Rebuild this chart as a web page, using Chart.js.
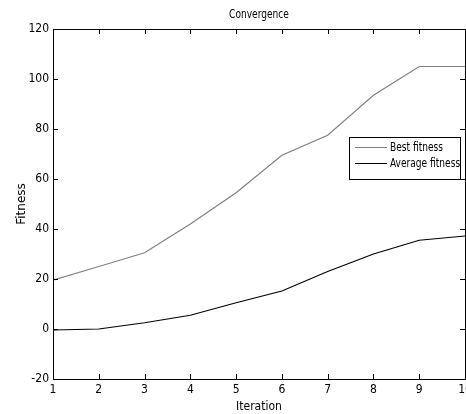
<!DOCTYPE html>
<html>
<head>
<meta charset="utf-8">
<script src="https://cdn.jsdelivr.net/npm/chart.js@4/dist/chart.umd.min.js"></script>
<style>
  html, body { margin: 0; padding: 0; background: #fff; }
  canvas { display: block; }
</style>
</head>
<body>
<canvas id="convChart" width="466" height="414"></canvas>
<script>
const iterations = [1, 2, 3, 4, 5, 6, 7, 8, 9, 10];
const bestFitness = [19.5, 25, 30.5, 42, 54.5, 69.5, 77.5, 93.5, 105, 105];
const avgFitness = [-0.4, 0, 2.5, 5.5, 10.5, 15.2, 23, 30, 35.5, 37.2];
const yTicks = [-20, 0, 20, 40, 60, 80, 100, 120];

const narrow = '"Liberation Sans Narrow", "DejaVu Sans Condensed", Arial, sans-serif';

// squeeze text a bit so it looks like the narrow matlab font
function narrowText(ctx, txt, x, y) {
    const w = ctx.measureText(txt).width;
    ctx.fillText(txt, x, y, w * 0.84);
}

// box, inward ticks, title and legend in matlab style
const matlabFrame = {
    id: 'matlabFrame',
    afterDraw(chart) {
        const ctx = chart.ctx;
        const a = chart.chartArea;
        const xs = chart.scales.x;
        const ys = chart.scales.y;
        ctx.save();
        ctx.strokeStyle = '#000';
        ctx.lineWidth = 1;
        ctx.beginPath();
        iterations.forEach(v => {
            const px = Math.round(xs.getPixelForValue(v)) + 0.5;
            ctx.moveTo(px, a.bottom); ctx.lineTo(px, a.bottom - 5);
            ctx.moveTo(px, a.top); ctx.lineTo(px, a.top + 5);
        });
        yTicks.forEach(v => {
            const py = Math.round(ys.getPixelForValue(v)) + 0.5;
            ctx.moveTo(a.left, py); ctx.lineTo(a.left + 5, py);
            ctx.moveTo(a.right, py); ctx.lineTo(a.right - 5, py);
        });
        ctx.stroke();
        ctx.strokeRect(Math.round(a.left) + 0.5, Math.round(a.top) + 0.5,
            Math.round(a.right - a.left), Math.round(a.bottom - a.top));

        // title
        ctx.fillStyle = '#000';
        ctx.font = '12px ' + narrow;
        ctx.textAlign = 'center';
        ctx.textBaseline = 'alphabetic';
        narrowText(ctx, 'Convergence', (a.left + a.right) / 2, 18);

        // legend
        const lx = 349, ly = 137, lw = 111, lh = 42;
        ctx.fillStyle = '#fff';
        ctx.fillRect(lx, ly, lw, lh);
        ctx.strokeRect(lx + 0.5, ly + 0.5, lw, lh);
        ctx.textAlign = 'left';
        ctx.textBaseline = 'middle';
        chart.data.datasets.forEach((ds, i) => {
            const y = ly + 10.5 + i * 16;
            ctx.strokeStyle = ds.borderColor;
            ctx.beginPath();
            ctx.moveTo(lx + 6, y); ctx.lineTo(lx + 38, y);
            ctx.stroke();
            ctx.fillStyle = '#000';
            narrowText(ctx, ds.label, lx + 41, y);
        });
        ctx.restore();
    }
};

new Chart(document.getElementById('convChart'), {
    type: 'line',
    data: {
        datasets: [{
            label: 'Best fitness',
            data: iterations.map((x, i) => ({ x: x, y: bestFitness[i] })),
            borderColor: '#808080',
            borderWidth: 1.2,
            pointRadius: 0,
            tension: 0
        }, {
            label: 'Average fitness',
            data: iterations.map((x, i) => ({ x: x, y: avgFitness[i] })),
            borderColor: '#000000',
            borderWidth: 1.2,
            pointRadius: 0,
            tension: 0
        }]
    },
    options: {
        responsive: false,
        animation: false,
        layout: { padding: { top: 29, right: 1, left: 0, bottom: 0 } },
        plugins: {
            legend: { display: false },
            tooltip: { enabled: false }
        },
        scales: {
            x: {
                type: 'linear',
                min: 1,
                max: 10,
                afterFit: s => { s.height = 35; s.paddingLeft = 0; s.paddingRight = 0; },
                ticks: {
                    stepSize: 1,
                    padding: 4,
                    color: '#000',
                    font: { family: narrow, size: 12 },
                    maxRotation: 0
                },
                grid: { display: false, drawTicks: false },
                border: { display: false },
                title: {
                    display: true,
                    text: 'Iteration',
                    color: '#000',
                    font: { family: narrow, size: 12 },
                    padding: { top: 0, bottom: 0 }
                }
            },
            y: {
                type: 'linear',
                min: -20,
                max: 120,
                afterFit: s => { s.width = 53; },
                ticks: {
                    stepSize: 20,
                    padding: 4,
                    color: '#000',
                    font: { family: narrow, size: 12 }
                },
                grid: { display: false, drawTicks: false },
                border: { display: false },
                title: {
                    display: true,
                    text: 'Fitness',
                    color: '#000',
                    font: { family: '"DejaVu Sans", sans-serif', size: 12 },
                    padding: { top: 15, bottom: 0 }
                }
            }
        }
    },
    plugins: [matlabFrame]
});
</script>
</body>
</html>
